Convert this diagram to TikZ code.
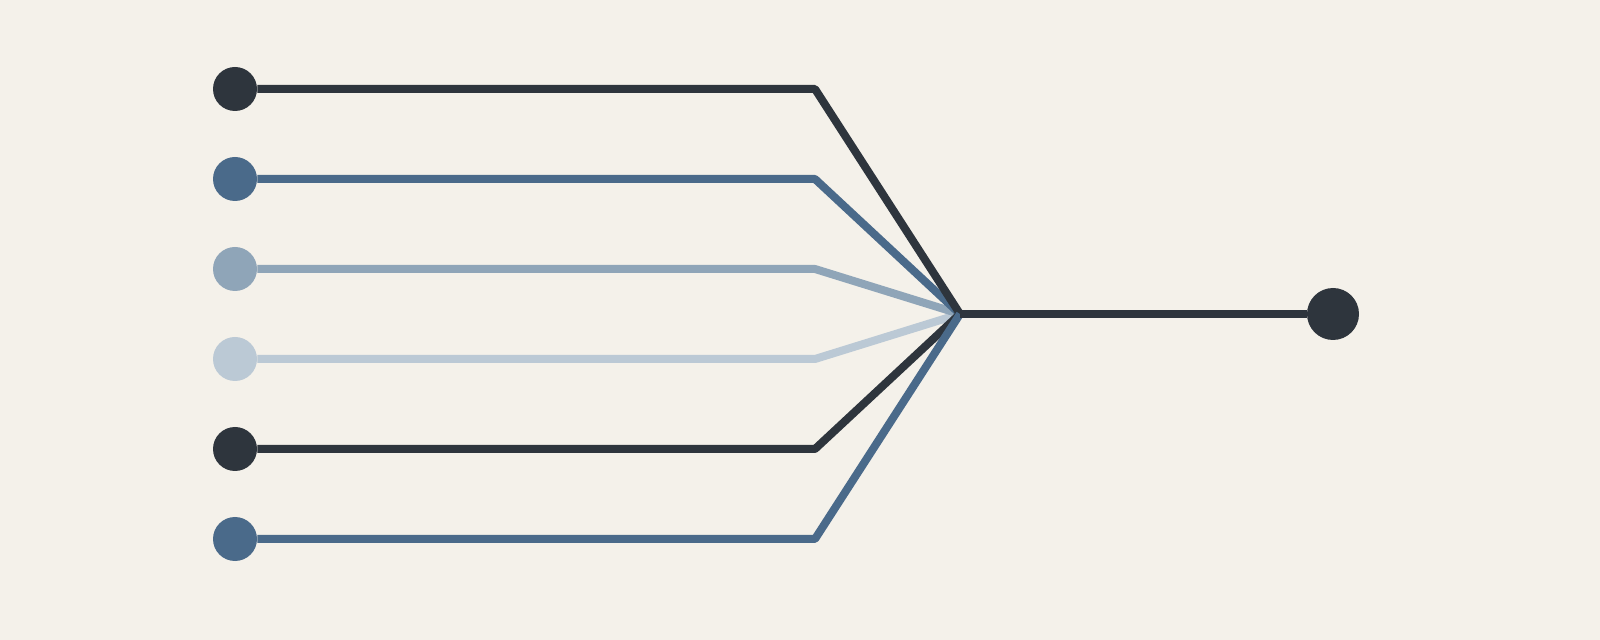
\documentclass[tikz,border=0pt]{standalone}
\usetikzlibrary{positioning}

\definecolor{paper}{HTML}{F4F1EA}
\definecolor{inkdark}{HTML}{2E353D}
\definecolor{inkblue}{HTML}{4A6A8A}
\definecolor{inkmid}{HTML}{8FA5B8}
\definecolor{inklight}{HTML}{BBC9D5}

\begin{document}
\begin{tikzpicture}[
        x=0.5pt, y=-0.5pt,
        dot/.style = {circle, fill=#1, inner sep=0pt, minimum size=22pt},
        sink/.style = {circle, fill=#1, inner sep=0pt, minimum size=26pt},
        wire/.style = {draw=#1, line width=4pt, line join=bevel}
                    ]
        \useasboundingbox[fill=paper] (0,0) rectangle (1600,640);
        %
        \coordinate (m) at (960,314);
        \coordinate (b1) at (815,89);
        \coordinate (b2) at (815,179);
        \coordinate (b3) at (815,269);
        \coordinate (b4) at (815,359);
        \coordinate (b5) at (815,449);
        \coordinate (b6) at (815,539);
        %
        \node (s1) [dot=inkdark] at (235,89) {};
        \node (s2) [dot=inkblue] at (235,179) {};
        \node (s3) [dot=inkmid] at (235,269) {};
        \node (s4) [dot=inklight] at (235,359) {};
        \node (s5) [dot=inkdark] at (235,449) {};
        \node (s6) [dot=inkblue] at (235,539) {};
        \node (out) [sink=inkdark] at (1333,314) {};
        %
        \draw[wire=inklight] (s4) -- (b4) -- (m);
        \draw[wire=inkmid] (s3) -- (b3) -- (m);
        \draw[wire=inkblue] (s2) -- (b2) -- (m);
        \draw[wire=inkdark] (s1) -- (b1) -- (m);
        \draw[wire=inkdark] (s5) -- (b5) -- (m);
        \draw[wire=inkblue] (s6) -- (b6) -- (m);
        \draw[wire=inkdark] (m) -- (out);
    \end{tikzpicture}
\end{document}
